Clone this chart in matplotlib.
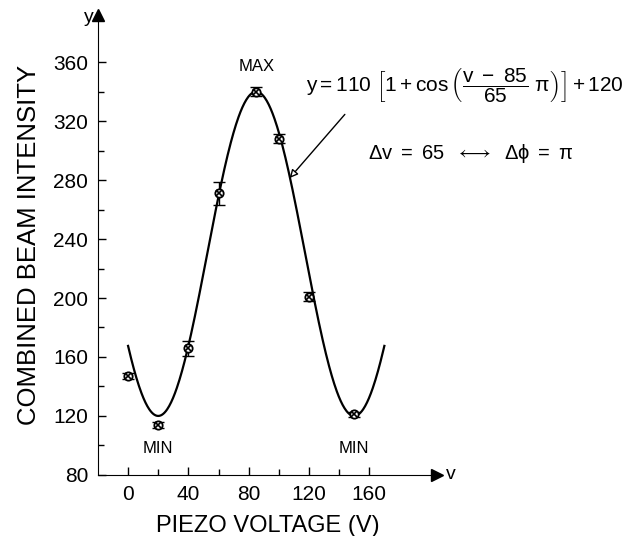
import numpy as np
import matplotlib.pyplot as plt

plt.rcParams['font.family'] = ['Liberation Sans', 'DejaVu Sans']
plt.rcParams['mathtext.fontset'] = 'custom'
plt.rcParams['mathtext.rm'] = 'Liberation Sans'
plt.rcParams['mathtext.it'] = 'Liberation Sans'

# measured points (piezo voltage, intensity, error)
volts = np.array([0, 20, 40, 60, 85, 100, 120, 150])
inten = np.array([147, 114, 166, 271, 340, 308, 201, 121])
errs = np.array([2, 2, 5, 8, 3, 3, 3, 2])

xticks = [0, 40, 80, 120, 160]
yticks = [80, 120, 160, 200, 240, 280, 320, 360]


def fit(v):
    return 110 * (1 + np.cos((v - 85) / 65 * np.pi)) + 120


fig = plt.figure(figsize=(6.4, 5.36), dpi=100)
ax = fig.add_axes([0.153, 0.114, 0.53, 0.858])

vv = np.linspace(0, 170, 400)
ax.plot(vv, fit(vv), color='black', lw=1.6)

ax.errorbar(volts, inten, yerr=errs, fmt='none', ecolor='black', elinewidth=1, capsize=4)
ax.plot(volts, inten, 'o', ms=6, mfc='white', mec='black', mew=1.3)
ax.plot(volts, inten, 'x', ms=4.5, color='black', mew=1.2)

ax.set_xlim(-20, 205)
ax.set_ylim(80, 392)
ax.spines['top'].set_visible(False)
ax.spines['right'].set_visible(False)
ax.plot(1, 0, '>', color='black', ms=8, transform=ax.transAxes, clip_on=False)
ax.plot(0, 1, '^', color='black', ms=8, transform=ax.transAxes, clip_on=False)

ax.set_xticks(xticks)
ax.set_xticks(np.arange(0, 161, 20), minor=True)
ax.set_yticks(yticks)
ax.set_yticks(np.arange(80, 361, 20), minor=True)
ax.tick_params(direction='in', length=6, width=1, labelsize=15, pad=7)
ax.tick_params(which='minor', direction='in', length=4, width=1)

ax.text(211, 80, 'v', fontsize=14, va='center', ha='left')
ax.text(-23, 390, 'y', fontsize=14, va='center', ha='right')

ax.text(85, 352, 'MAX', fontsize=12, ha='center', va='bottom')
ax.text(20, 98, 'MIN', fontsize=12, ha='center', va='center')
ax.text(150, 98, 'MIN', fontsize=12, ha='center', va='center')

ax.text(118, 344, r'$\mathrm{y = 110}\ \left[1+\cos\left(\dfrac{\mathrm{v\ -\ 85}}{65}\ \pi\right)\right]+120$',
        fontsize=15, ha='left', va='center', clip_on=False)
ax.annotate('', xy=(106, 280), xytext=(145, 326),
            arrowprops=dict(arrowstyle='-|>', color='black', lw=1, mutation_scale=12, fc='white'))
ax.text(159, 298, r'$\Delta\mathrm{v}\ =\ 65\ \ \longleftrightarrow\ \ \Delta\phi\ =\ \pi$',
        fontsize=14.5, ha='left', va='center', clip_on=False)

ax.set_xlabel('PIEZO VOLTAGE (V)', fontsize=17, labelpad=8)
ax.set_ylabel('COMBINED BEAM INTENSITY', fontsize=18.5, labelpad=9)

fig.savefig('out.png')
